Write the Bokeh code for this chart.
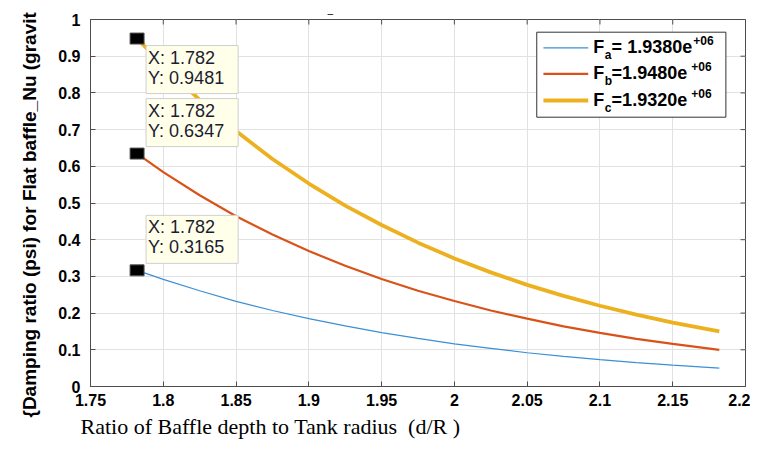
from bokeh.plotting import figure
from bokeh.models import LinearAxis, Title, Label, FixedTicker, Range1d
from bokeh.embed import file_html
from bokeh.resources import INLINE
from bokeh.core.properties import value

# ---------------- data ----------------
d_over_R = [1.782, 1.80, 1.825, 1.85, 1.875, 1.90, 1.925, 1.95, 1.975,
            2.00, 2.025, 2.05, 2.075, 2.10, 2.125, 2.15, 2.182]
psi_a = [0.3165, 0.292, 0.261, 0.232, 0.207, 0.185, 0.165, 0.147, 0.131,
         0.116, 0.104, 0.092, 0.082, 0.073, 0.065, 0.058, 0.050]
psi_b = [0.6347, 0.584, 0.521, 0.464, 0.414, 0.369, 0.329, 0.293, 0.261,
         0.233, 0.207, 0.185, 0.164, 0.146, 0.130, 0.116, 0.100]
psi_c = [0.9481, 0.875, 0.781, 0.696, 0.620, 0.553, 0.493, 0.440, 0.392,
         0.349, 0.311, 0.277, 0.247, 0.220, 0.196, 0.174, 0.150]

legend_main = ["F", "F", "F"]
legend_sub = ["a", "b", "c"]
legend_value = ["= 1.9380e", "=1.9480e", "=1.9320e"]
legend_exp = ["+06", "+06", "+06"]

tip_x = 1.782
tip_y = [0.9481, 0.6347, 0.3165]

x_ticks = [1.75, 1.8, 1.85, 1.9, 1.95, 2.0, 2.05, 2.1, 2.15, 2.2]
x_tick_labels = ["1.75", "1.8", "1.85", "1.9", "1.95", "2", "2.05", "2.1", "2.15", "2.2"]
y_ticks = [0, 0.1, 0.2, 0.3, 0.4, 0.5, 0.6, 0.7, 0.8, 0.9, 1.0]
y_tick_labels = ["0", "0.1", "0.2", "0.3", "0.4", "0.5", "0.6", "0.7", "0.8", "0.9", "1"]

x_label = "Ratio of Baffle depth to Tank radius \u00a0(d/R )"
y_label = "{Damping ratio (psi) for Flat baffle_Nu (gravit"

# ---------------- styling ----------------
COLORS = ["#3a8fd6", "#D95319", "#EDB120"]
WIDTHS = [1.2, 2.2, 3.8]
X0, X1, Y0, Y1 = 1.75, 2.2, 0.0, 1.0
FW, FH = 658, 367          # frame size in px
TICK_PX = 5


def fx(px):   # frame pixel (from left) -> data x
    return X0 + px * (X1 - X0) / FW


def fy(py):   # frame pixel (from top) -> data y
    return Y1 - py * (Y1 - Y0) / FH


p = figure(width=750, height=448, output_backend="svg", toolbar_location=None,
           x_range=Range1d(X0, X1), y_range=Range1d(Y0, Y1),
           min_border_left=87, min_border_right=5, min_border_top=19, min_border_bottom=62,
           x_axis_location=None, y_axis_location=None)
p.background_fill_color = "white"
p.border_fill_color = "white"

AX_COLOR = "#4d4d4d"
p.outline_line_color = AX_COLOR
p.outline_line_width = 1
TICK_FONT = "Liberation Sans"


def make_axis(ticks, labels, standoff):
    ax = LinearAxis(ticker=FixedTicker(ticks=ticks))
    ax.major_label_overrides = {t: l for t, l in zip(ticks, labels)}
    ax.axis_line_color = AX_COLOR
    ax.major_tick_line_color = AX_COLOR
    ax.major_tick_in = TICK_PX
    ax.major_tick_out = 0
    ax.minor_tick_line_color = None
    ax.major_label_text_font = TICK_FONT
    ax.major_label_text_font_style = "bold"
    ax.major_label_text_color = "black"
    ax.major_label_text_font_size = "16px"
    ax.major_label_standoff = standoff
    return ax


p.add_layout(make_axis(x_ticks, x_tick_labels, 7), "below")
p.add_layout(make_axis(y_ticks, y_tick_labels, 10), "left")

# inward ticks on the top and right edges of the box
p.segment(x0=x_ticks, y0=[Y1] * len(x_ticks), x1=x_ticks,
          y1=[Y1 - TICK_PX * (Y1 - Y0) / FH] * len(x_ticks), line_color=AX_COLOR, line_width=1)
p.segment(x0=[X1] * len(y_ticks), y0=y_ticks, x1=[X1 - TICK_PX * (X1 - X0) / FW] * len(y_ticks),
          y1=y_ticks, line_color=AX_COLOR, line_width=1)

p.xgrid.ticker = FixedTicker(ticks=x_ticks)
p.ygrid.ticker = FixedTicker(ticks=y_ticks)
p.grid.grid_line_color = "#E2E2E2"
p.grid.grid_line_width = 1

# axis labels as titles (so they can be offset like the reference)
p.add_layout(Title(text=x_label, align="left", offset=-10, standoff=7,
                   text_font="Liberation Serif", text_font_size="22px",
                   text_font_style="normal", text_color="black"), "below")
p.add_layout(Title(text=y_label, align="left", offset=-31, standoff=32,
                   text_font="Liberation Sans", text_font_size="19px",
                   text_font_style="bold", text_color="black"), "left")
# small dash above the box in the reference
p.add_layout(Title(text="\u2013", align="left", offset=237, standoff=2,
                   text_font="Liberation Sans", text_font_size="10px",
                   text_font_style="normal", text_color="black"), "above")

# ---------------- curves ----------------
for ys, c, w in zip([psi_a, psi_b, psi_c], COLORS, WIDTHS):
    p.line(d_over_R, ys, line_color=c, line_width=w)

# data-tip markers
p.rect(x=[tip_x] * 3, y=tip_y, width=14, height=11, width_units="screen",
       height_units="screen", fill_color="black", line_color="#555555", line_width=1)

# data-tip boxes
for i, ty in enumerate(tip_y):
    txt = "X: %.3f\nY: %.4f" % (tip_x, ty)
    if i == 0:
        anchor, yoff = "top_left", -7
    else:
        anchor, yoff = "bottom_left", 7
    p.add_layout(Label(x=tip_x, y=ty, x_offset=9, y_offset=yoff, anchor=anchor,
                       text=txt, text_font="Liberation Sans", text_font_size="18px",
                       text_color="#1c1c30", text_line_height=1.0,
                       background_fill_color="#FFFFEA",
                       border_line_color="#CFCFCF", border_line_width=1,
                       padding=(2, 14, 2, 6)))

# ---------------- legend (drawn by hand for sub/superscripts) ----------------
p.quad(left=[fx(448.3)], right=[fx(638.3)], top=[fy(12.7)], bottom=[fy(97.7)],
       fill_color="white", line_color="#333333", line_width=1)
row_py = [28.3, 54.3, 81.0]
for i in range(3):
    yy = fy(row_py[i])
    p.line([fx(455), fx(500)], [yy, yy], line_color=COLORS[i], line_width=WIDTHS[i])
    p.text(x=[fx(505)], y=[fy(row_py[i] - 1)], text=[legend_main[i]],
           text_font=value("Liberation Sans"), text_font_style="bold",
           text_font_size="18px", text_baseline="middle", text_color="black")
    p.text(x=[fx(516.5)], y=[fy(row_py[i] + 7)], text=[legend_sub[i]],
           text_font=value("Liberation Sans"), text_font_style="bold",
           text_font_size="12px", text_baseline="middle", text_color="black")
    p.text(x=[fx(523.5)], y=[fy(row_py[i] - 1)], text=[legend_value[i]],
           text_font=value("Liberation Sans"), text_font_style="bold",
           text_font_size="18px", text_baseline="middle", text_color="black")
    p.text(x=[fx(605.5 if i == 0 else 603.5)], y=[fy(row_py[i] - 7)], text=[legend_exp[i]],
           text_font=value("Liberation Sans"), text_font_style="bold",
           text_font_size="12px", text_baseline="middle", text_color="black")

open("out.html", "w").write(file_html(p, INLINE))
